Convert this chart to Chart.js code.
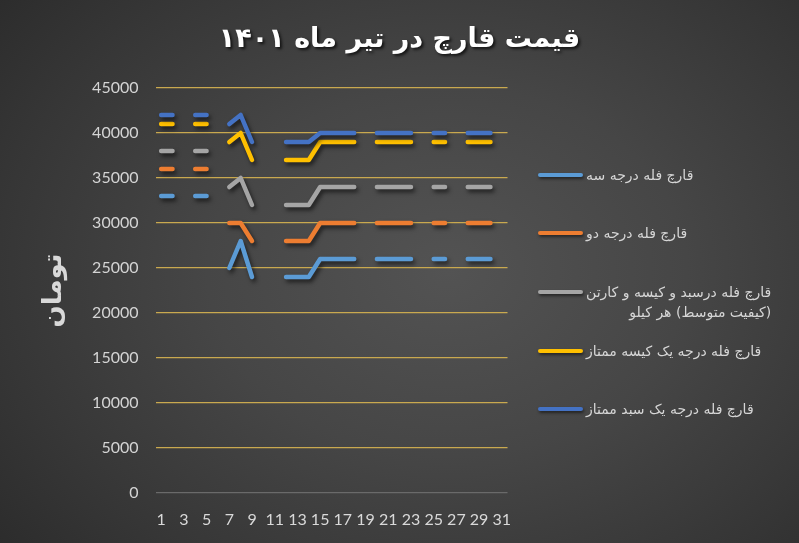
<!DOCTYPE html>
<html><head><meta charset="utf-8">
<script src="https://cdn.jsdelivr.net/npm/chart.js@4.4.0/dist/chart.umd.min.js"></script>
<style>
html,body{margin:0;padding:0;width:799px;height:543px;overflow:hidden;}
body{position:relative;background:radial-gradient(ellipse 75% 85% at 56% 50%, #535353 0%, #464646 40%, #363636 75%, #2a2a2a 100%);}
#c{position:absolute;left:0;top:0;}
.item{position:absolute;left:538px;display:flex;align-items:flex-start;}
.mark{width:45px;height:4px;border-radius:2px;margin-top:8px;box-shadow:1px 2px 3px rgba(0,0,0,.5);flex:none;}
.txt{margin-left:3px;color:#d6d6d6;font-family:'DejaVu Sans',sans-serif;font-size:14px;line-height:20px;direction:rtl;text-align:right;white-space:pre;}
</style></head>
<body>
<canvas id="c" width="799" height="543"></canvas>
<div id="legend"></div>
<script>
const categories = ['1','2','3','4','5','6','7','8','9','10','11','12','13','14','15','16','17','18','19','20','21','22','23','24','25','26','27','28','29','30','31'];
const shownTicks = ['1','3','5','7','9','11','13','15','17','19','21','23','25','27','29','31'];
const seriesNames = [
  'قارچ فله درجه سه',
  'قارچ فله درجه دو',
  'قارچ فله درسبد و کیسه و کارتن\n(کیفیت متوسط) هر کیلو',
  'قارچ فله درجه یک کیسه ممتاز',
  'قارچ فله درجه یک سبد ممتاز'
];
const grade3 = [33000,33000,null,33000,33000,null,25000,28000,24000,null,null,24000,24000,24000,26000,26000,26000,26000,null,26000,26000,26000,26000,null,26000,26000,null,26000,26000,26000,null];
const grade2 = [36000,36000,null,36000,36000,null,30000,30000,28000,null,null,28000,28000,28000,30000,30000,30000,30000,null,30000,30000,30000,30000,null,30000,30000,null,30000,30000,30000,null];
const basketBag = [38000,38000,null,38000,38000,null,34000,35000,32000,null,null,32000,32000,32000,34000,34000,34000,34000,null,34000,34000,34000,34000,null,34000,34000,null,34000,34000,34000,null];
const grade1Bag = [41000,41000,null,41000,41000,null,39000,40000,37000,null,null,37000,37000,37000,39000,39000,39000,39000,null,39000,39000,39000,39000,null,39000,39000,null,39000,39000,39000,null];
const grade1Basket = [42000,42000,null,42000,42000,null,41000,42000,39000,null,null,39000,39000,39000,40000,40000,40000,40000,null,40000,40000,40000,40000,null,40000,40000,null,40000,40000,40000,null];
const yTicks = [0,5000,10000,15000,20000,25000,30000,35000,40000,45000];
const colors = ['#5B9BD5','#ED7D31','#A5A5A5','#FFC000','#4472C4'];
const titleText = 'قیمت قارچ در تیر ماه ۱۴۰۱';
const yTitle = 'تومان';

const seriesData = [grade3, grade2, basketBag, grade1Bag, grade1Basket];

const shadowPlugin = {
  id:'lineShadow',
  beforeDraw(chart){
    const tb = chart.titleBlock;
    if (tb && !tb._shadowed) {
      const orig = tb.draw.bind(tb);
      tb.draw = function(a){
        const ctx=this.ctx; ctx.save();
        ctx.shadowColor='rgba(0,0,0,0.7)'; ctx.shadowBlur=3; ctx.shadowOffsetX=2; ctx.shadowOffsetY=2;
        orig(a); ctx.restore();
      };
      tb._shadowed = true;
    }
  },
  beforeDatasetsDraw(chart){
    const ctx = chart.ctx; ctx.save();
    ctx.shadowColor='rgba(0,0,0,0.6)'; ctx.shadowBlur=4; ctx.shadowOffsetX=2; ctx.shadowOffsetY=3;
  },
  afterDatasetsDraw(chart){ chart.ctx.restore(); }
};

new Chart(document.getElementById('c'), {
  type:'line',
  data:{
    labels: categories,
    datasets: seriesData.map((d,i)=>({
      label: seriesNames[i].replace('\n',' '),
      data: d,
      borderColor: colors[i],
      backgroundColor: colors[i],
      borderWidth: 4.5,
      borderCapStyle:'round',
      borderJoinStyle:'round',
      pointRadius:0,
      spanGaps:false,
      tension:0,
      order: 4-i
    }))
  },
  options:{
    responsive:false,
    animation:false,
    events:[],
    layout:{padding:0},
    plugins:{
      legend:{display:false},
      tooltip:{enabled:false},
      title:{display:true,text:titleText,color:'#ffffff',
        font:{family:'DejaVu Sans',size:27,weight:'bold'},
        padding:{top:24,bottom:31.6}}
    },
    scales:{
      x:{
        offset:true,
        grid:{display:false},
        border:{display:false},
        ticks:{autoSkip:false,maxRotation:0,minRotation:0,padding:9,color:'#d9d9d9',
          font:{family:'Lato',size:16},
          callback:function(v,i){const l=categories[i];return shownTicks.includes(l)?l:'';}},
        afterFit:function(s){s.height=50;}
      },
      y:{
        min:0,max:45000,
        grid:{drawTicks:false,lineWidth:1.2,color:function(c){return c.tick && c.tick.value===0?'#6a6a6a':'#c9a94f';}},
        border:{display:false},
        ticks:{stepSize:5000,padding:17,color:'#d4d4d4',font:{family:'Lato',size:16},
          callback:function(v){return yTicks.includes(v)?String(v):'';}},
        title:{display:true,text:yTitle,color:'#d9d9d9',font:{family:'DejaVu Sans',size:26,weight:'bold'},padding:{top:39,bottom:0}},
        afterFit:function(s){s.width=155.5;}
      },
      pad:{
        position:'right',type:'linear',display:true,
        grid:{display:false},border:{display:false},ticks:{display:false},
        afterFit:function(s){s.width=291.5;}
      }
    }
  },
  plugins:[shadowPlugin]
});

// legend (HTML), built from the series names and colours
const legendTops = [165, 223, 282, 341, 399];
const lg = document.getElementById('legend');
seriesNames.forEach((name,i)=>{
  const item=document.createElement('div'); item.className='item'; item.style.top=legendTops[i]+'px';
  const mk=document.createElement('div'); mk.className='mark'; mk.style.background=colors[i];
  const tx=document.createElement('div'); tx.className='txt'; tx.textContent=name;
  item.appendChild(mk); item.appendChild(tx); lg.appendChild(item);
});
</script>
</body></html>
